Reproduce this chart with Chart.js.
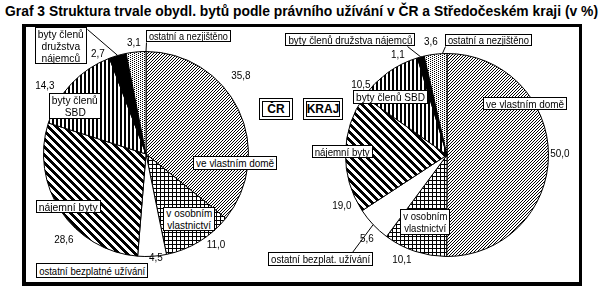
<!DOCTYPE html>
<html>
<head>
<meta charset="utf-8">
<script src="https://cdn.jsdelivr.net/npm/chart.js@4.4.0/dist/chart.umd.min.js"></script>
<style>
  body { margin: 0; width: 604px; height: 287px; background: #fff; overflow: hidden; position: relative;
         font-family: "Liberation Sans", Arial, sans-serif; }
  canvas { position: absolute; left: 0; top: 0; }
  #title { position: absolute; left: 5px; top: 2px; font-weight: bold; font-size: 15px; line-height: 18px;
           white-space: nowrap; transform-origin: 0 0; }
  .box span, .val { display: inline-block; }
  #frame { position: absolute; left: 22px; top: 24px; width: 553px; height: 255px; border: solid #000;
           border-width: 3px 3px 4px 4px; }
  .box { position: absolute; box-sizing: border-box; border: 1px solid #000; background: #fff; font-size: 11px;
         line-height: 12px; display: flex; flex-direction: column; justify-content: center; align-items: center;
         white-space: nowrap; }
  .val { position: absolute; font-size: 11px; line-height: 12px; white-space: nowrap; }
  .tag { position: absolute; box-sizing: border-box; border: 4px double #000; background: #fff; font-weight: bold;
         font-size: 12px; display: flex; justify-content: center; align-items: center; }
</style>
</head>
<body>
<div id="title">Graf 3 Struktura trvale obydl. bytů podle právního užívání v ČR a Středočeském kraji (v %)</div>
<canvas id="crChart" width="604" height="287"></canvas>
<canvas id="krajChart" width="604" height="287"></canvas>
<div id="frame"></div>
<div class="tag" style="left:259px;top:98px;width:34px;height:22px">ČR</div>
<div class="tag" style="left:303px;top:98px;width:40px;height:22px">KRAJ</div>
<script>
// kategorie (poradi po smeru hodin od 12 h)
const categories = ['ve vlastním domě', 'v osobním vlastnictví', 'ostatní bezplatné užívání', 'nájemní byty',
                    'byty členů SBD', 'byty členů družstva nájemců', 'ostatní a nezjištěno'];
const crValues = [35.8, 11.0, 4.5, 28.6, 14.3, 2.7, 3.1];
const krajValues = [50.0, 10.1, 5.6, 19.0, 10.5, 1.1, 3.6];

// popisky v rameckach
const crLabels = [['ve vlastním domě'], ['v osobním', 'vlastnictví'], ['ostatní bezplatné užívání'], ['nájemní byty'],
                  ['byty členů', 'SBD'], ['byty členů', 'družstva', 'nájemců'], ['ostatní a nezjištěno']];
const krajLabels = [['ve vlastním domě'], ['v osobním', 'vlastnictví'], ['ostatní bezplat. užívání'], ['nájemní byty'],
                    ['byty členů SBD'], ['byty členů družstva nájemců'], ['ostatní a nezjištěno']];

// rozmisteni (x, y, w, h) ramecku a hodnot
const crBoxPos = [[193,156,84,14],[163,207,52,24],[36,263,112,15],[36,200,65,13],[49,93,52,26],[35,27,52,37],[146,30,85,12]];
const krajBoxPos = [[483,97,84,13],[400,209,50,26],[268,252,105,14],[312,145,61,13],[353,90,75,14],[285,33,130,13],[445,34,87,12]];
const crValPos = [[241,75],[216,244],[156,257],[64,239],[45,85],[98,53],[134,42]];
const krajValPos = [[560,153],[402,259],[367,238],[342,205],[361,84],[398,54],[431,41]];

const measureCtx = document.createElement('canvas').getContext('2d');
function textWidth(txt, font) { measureCtx.font = font; return measureCtx.measureText(txt).width; }
const family = '"Liberation Sans", Arial, sans-serif';

// titulek - zuzit na sirku z predlohy
const titleEl = document.getElementById('title');
const tw = textWidth(titleEl.textContent, 'bold 15px ' + family);
titleEl.style.transform = 'scaleX(' + (593 / tw) + ')';

function addBoxes(labels, pos) {
  labels.forEach((lines, i) => {
    const [x, y, w, h] = pos[i];
    const div = document.createElement('div');
    div.className = 'box';
    div.style.cssText = `left:${x}px;top:${y}px;width:${w}px;height:${h}px`;
    const maxW = Math.max(...lines.map(l => textWidth(l, '11px ' + family)));
    const s = Math.min(1, (w - 6) / maxW);
    lines.forEach(l => {
      const sp = document.createElement('span');
      sp.textContent = l;
      sp.style.transform = 'scaleX(' + s + ')';
      div.appendChild(sp);
    });
    document.body.appendChild(div);
  });
}

function addValues(values, pos) {
  values.forEach((v, i) => {
    const d = document.createElement('div');
    d.className = 'val';
    d.textContent = v.toFixed(1).replace('.', ',');
    d.style.left = pos[i][0] + 'px';
    d.style.top = pos[i][1] + 'px';
    d.style.transform = 'translate(-50%,-50%) scaleX(0.9)';
    document.body.appendChild(d);
  });
}

// vzory vyplni
function makePattern(w, h, pixels) {
  const c = document.createElement('canvas');
  c.width = w; c.height = h;
  const g = c.getContext('2d');
  g.fillStyle = '#fff'; g.fillRect(0, 0, w, h);
  g.fillStyle = '#000';
  pixels.forEach(([x, y]) => g.fillRect(x, y, 1, 1));
  return measureCtx.createPattern(c, 'repeat');
}
function range(n) { return Array.from({length: n}, (_, i) => i); }
const patDiag = makePattern(3, 3, range(3).map(x => [x, 2 - x]));
const patGrid = makePattern(4, 4, range(4).map(x => [x, 0]).concat(range(4).map(y => [0, y])));
const patThick = makePattern(8, 8, range(8).flatMap(y => [0, 1, 2, 3].map(k => [(y + k) % 8, y])));
const patVert = makePattern(4, 1, [[0, 0], [1, 0]]);
const patDots = makePattern(4, 2, [[0, 0], [2, 1]]);
const fills = [patDiag, patGrid, '#fff', patThick, patVert, '#000', patDots];

const leaderPlugin = {
  id: 'leaders',
  afterDatasetsDraw(chart, args, opts) {
    const ctx = chart.ctx;
    const arcs = chart.getDatasetMeta(0).data;
    ctx.save();
    ctx.strokeStyle = '#000';
    ctx.lineWidth = 1;
    (opts.lines || []).forEach(l => {
      const a = arcs[l.index];
      const ang = a.startAngle + (a.endAngle - a.startAngle) * l.t;
      ctx.beginPath();
      ctx.moveTo(l.from[0] + 0.5, l.from[1] + 0.5);
      ctx.lineTo(a.x + Math.cos(ang) * a.outerRadius, a.y + Math.sin(ang) * a.outerRadius);
      ctx.stroke();
    });
    ctx.restore();
  }
};

function makePie(id, values, padding, lines) {
  return new Chart(document.getElementById(id), {
    type: 'pie',
    data: {
      labels: categories,
      datasets: [{ data: values, backgroundColor: fills, borderColor: '#000', borderWidth: 1 }]
    },
    options: {
      responsive: false,
      animation: false,
      devicePixelRatio: 1,
      layout: { padding: padding },
      plugins: { legend: { display: false }, tooltip: { enabled: false }, leaders: { lines: lines } }
    },
    plugins: [leaderPlugin]
  });
}

makePie('crChart', crValues, { left: 43, right: 355, top: 51, bottom: 30 }, [
  { index: 5, t: 0.5, from: [87, 29] },
  { index: 6, t: 1, from: [146, 42] }
]);
makePie('krajChart', krajValues, { left: 345, right: 55, top: 53, bottom: 30 }, [
  { index: 5, t: 0.5, from: [407, 46] },
  { index: 6, t: 0.8, from: [445, 46] },
  { index: 2, t: 0.5, from: [352, 252] }
]);

addBoxes(crLabels, crBoxPos);
addBoxes(krajLabels, krajBoxPos);
addValues(crValues, crValPos);
addValues(krajValues, krajValPos);
</script>
</body>
</html>
